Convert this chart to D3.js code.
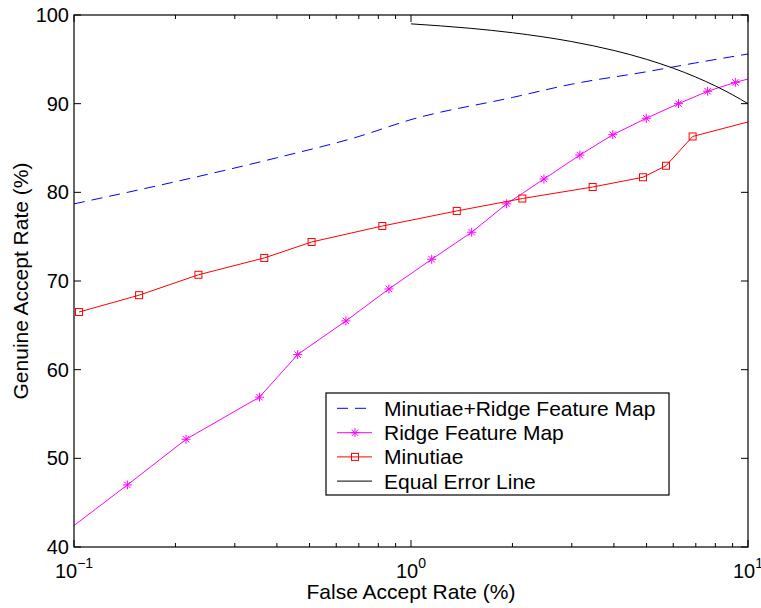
<!DOCTYPE html>
<html>
<head>
<meta charset="utf-8">
<script src="https://cdn.jsdelivr.net/npm/d3@7"></script>
<style>
  html, body { margin: 0; padding: 0; background: #fff; }
  svg { display: block; font-family: "Liberation Sans", Arial, Helvetica, sans-serif; }
</style>
</head>
<body>
<svg id="chart" width="761" height="608"></svg>
<script>
// ---- Data ----
const combinedFAR = [0.1, 0.2, 0.4, 0.7, 1, 2, 3, 5, 7, 10];
const combinedGAR = [78.7, 81.2, 83.9, 86.3, 88.2, 90.7, 92.2, 93.6, 94.6, 95.6];

const ridgeFAR = [0.09, 0.144, 0.215, 0.355, 0.461, 0.641, 0.86, 1.152, 1.514, 1.922, 2.48, 3.17, 3.97, 4.99, 6.22, 7.59, 9.17, 11];
const ridgeGAR = [41.1, 47.0, 52.15, 56.9, 61.7, 65.5, 69.1, 72.45, 75.5, 78.7, 81.5, 84.2, 86.5, 88.35, 90.0, 91.4, 92.4, 93.2];

const minutiaeFAR = [0.1035, 0.156, 0.234, 0.367, 0.507, 0.822, 1.367, 2.14, 3.46, 4.88, 5.71, 6.85, 11];
const minutiaeGAR = [66.5, 68.4, 70.7, 72.6, 74.4, 76.2, 77.9, 79.3, 80.6, 81.7, 83.0, 86.3, 88.35];

const eerFAR = [1, 1.5, 2, 3, 4, 5, 6, 7, 8, 9, 10];
const eerGAR = [99, 98.5, 98, 97, 96, 95, 94, 93, 92, 91, 90];

const seriesNames = ["Minutiae+Ridge Feature Map", "Ridge Feature Map", "Minutiae", "Equal Error Line"];
const xTickValues = [0.1, 1, 10];
const xTickExponents = ["\u22121", "0", "1"];
const yTickValues = [40, 50, 60, 70, 80, 90, 100];
const xLabel = "False Accept Rate (%)";
const yLabel = "Genuine Accept Rate (%)";

// ---- Layout ----
const svg = d3.select("#chart");
const L = 74, R = 748, T = 15, B = 547;
const x = d3.scaleLog().domain([0.1, 10]).range([L, R]);
const y = d3.scaleLinear().domain([40, 100]).range([B, T]);

svg.append("defs").append("clipPath").attr("id", "plotclip")
  .append("rect").attr("x", L).attr("y", T).attr("width", R - L).attr("height", B - T);

const zip = (a, b) => a.map((v, i) => [v, b[i]]);

const line = d3.line().x(d => x(d[0])).y(d => y(d[1]));
const smooth = d3.line().x(d => x(d[0])).y(d => y(d[1])).curve(d3.curveMonotoneX);

const plot = svg.append("g").attr("clip-path", "url(#plotclip)");

// Combined (blue dashed)
plot.append("path").datum(zip(combinedFAR, combinedGAR))
  .attr("d", smooth).attr("fill", "none").attr("stroke", "#0000ff")
  .attr("stroke-width", 1).attr("stroke-dasharray", "11,7");

// Ridge (magenta with stars)
plot.append("path").datum(zip(ridgeFAR, ridgeGAR))
  .attr("d", line).attr("fill", "none").attr("stroke", "#ff00ff").attr("stroke-width", 1);

function star(g, cx, cy, r, color) {
  const d = `M${cx - r},${cy}L${cx + r},${cy}M${cx},${cy - r}L${cx},${cy + r}` +
    `M${cx - r * 0.72},${cy - r * 0.72}L${cx + r * 0.72},${cy + r * 0.72}` +
    `M${cx - r * 0.72},${cy + r * 0.72}L${cx + r * 0.72},${cy - r * 0.72}`;
  g.append("path").attr("d", d).attr("stroke", color).attr("stroke-width", 1).attr("fill", "none");
}
zip(ridgeFAR, ridgeGAR).forEach(d => star(plot, x(d[0]), y(d[1]), 4.5, "#ff00ff"));

// Minutiae (red with squares)
plot.append("path").datum(zip(minutiaeFAR, minutiaeGAR))
  .attr("d", line).attr("fill", "none").attr("stroke", "#ff0000").attr("stroke-width", 1);
plot.selectAll(".sq").data(zip(minutiaeFAR, minutiaeGAR)).enter().append("rect")
  .attr("x", d => x(d[0]) - 3.5).attr("y", d => y(d[1]) - 3.5)
  .attr("width", 7).attr("height", 7)
  .attr("fill", "none").attr("stroke", "#ff0000").attr("stroke-width", 1);

// Equal error line (black)
plot.append("path").datum(zip(eerFAR, eerGAR))
  .attr("d", smooth).attr("fill", "none").attr("stroke", "#000").attr("stroke-width", 1);

// ---- Axes box and ticks ----
const axes = svg.append("g");
axes.append("rect").attr("x", L).attr("y", T).attr("width", R - L).attr("height", B - T)
  .attr("fill", "none").attr("stroke", "#000").attr("stroke-width", 1.2);

// Y ticks (left and right, inward)
yTickValues.forEach(v => {
  const py = y(v);
  axes.append("line").attr("x1", L).attr("x2", L + 7).attr("y1", py).attr("y2", py).attr("stroke", "#000");
  axes.append("line").attr("x1", R).attr("x2", R - 7).attr("y1", py).attr("y2", py).attr("stroke", "#000");
  axes.append("text").attr("x", L - 5).attr("y", py + 7)
    .attr("text-anchor", "end").attr("font-size", 20).attr("fill", "#000").text(v);
});

// X ticks: major + minor (log), top and bottom, inward
const minorTicks = [];
[0.1, 1].forEach(dec => { for (let k = 2; k <= 9; k++) minorTicks.push(dec * k); });
minorTicks.forEach(v => {
  const px = x(v);
  axes.append("line").attr("x1", px).attr("x2", px).attr("y1", B).attr("y2", B - 4).attr("stroke", "#000");
  axes.append("line").attr("x1", px).attr("x2", px).attr("y1", T).attr("y2", T + 4).attr("stroke", "#000");
});
xTickValues.forEach((v, i) => {
  const px = x(v);
  axes.append("line").attr("x1", px).attr("x2", px).attr("y1", B).attr("y2", B - 7).attr("stroke", "#000");
  axes.append("line").attr("x1", px).attr("x2", px).attr("y1", T).attr("y2", T + 7).attr("stroke", "#000");
  const t = axes.append("text").attr("x", px).attr("y", 578)
    .attr("text-anchor", "middle").attr("font-size", 20).attr("fill", "#000");
  t.append("tspan").text("10");
  t.append("tspan").attr("font-size", 14).attr("dy", -10).text(xTickExponents[i]);
});

// Axis labels
svg.append("text").attr("x", (L + R) / 2).attr("y", 599).attr("text-anchor", "middle")
  .attr("font-size", 21).attr("fill", "#000").text(xLabel);
svg.append("text").attr("transform", `translate(27.5,${(T + B) / 2}) rotate(-90)`)
  .attr("text-anchor", "middle").attr("font-size", 21).attr("fill", "#000").text(yLabel);

// ---- Legend ----
const lg = svg.append("g");
lg.append("rect").attr("x", 326).attr("y", 393).attr("width", 343).attr("height", 102)
  .attr("fill", "#fff").attr("stroke", "#000").attr("stroke-width", 1.2);
const rowY = [408.3, 432.7, 456.9, 481.1];
const colors = ["#0000ff", "#ff00ff", "#ff0000", "#000"];
seriesNames.forEach((name, i) => {
  const yy = rowY[i];
  const ln = lg.append("line").attr("x1", 337).attr("x2", 372).attr("y1", yy).attr("y2", yy)
    .attr("stroke", colors[i]).attr("stroke-width", 1);
  if (i === 0) ln.attr("stroke-dasharray", "11,7");
  if (i === 1) star(lg, 355, yy, 4.5, colors[i]);
  if (i === 2) lg.append("rect").attr("x", 351.5).attr("y", yy - 3.5).attr("width", 7).attr("height", 7)
    .attr("fill", "none").attr("stroke", colors[i]);
  lg.append("text").attr("x", 384).attr("y", yy + 7.5).attr("font-size", 21).attr("fill", "#000").text(name);
});
</script>
</body>
</html>
